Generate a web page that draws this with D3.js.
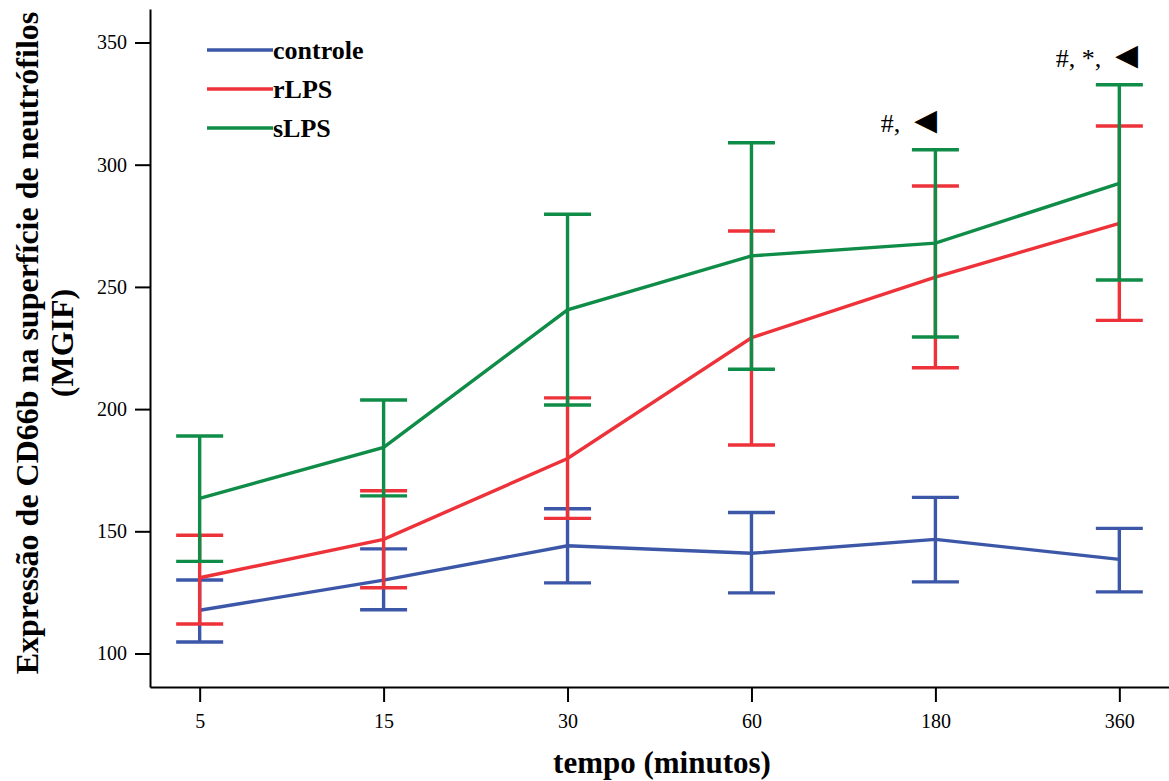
<!DOCTYPE html>
<html>
<head>
<meta charset="utf-8">
<script src="https://cdn.jsdelivr.net/npm/d3@7"></script>
<style>
  body { margin: 0; background: #fff; }
  text { font-family: "Liberation Serif", "Times New Roman", serif; }
</style>
</head>
<body>
<svg id="chart" width="1169" height="781"></svg>
<script>
var times = ["5", "15", "30", "60", "180", "360"];
var yTicks = [100, 150, 200, 250, 300, 350];

var controleMean = [117.7, 130.0, 144.1, 141.0, 146.7, 138.5];
var controleHigh = [130.1, 142.8, 159.2, 157.7, 163.9, 151.2];
var controleLow = [104.7, 117.9, 128.9, 124.8, 129.3, 125.2];

var rlpsMean = [131.0, 146.7, 179.8, 229.2, 254.0, 276.0];
var rlpsHigh = [148.4, 166.6, 204.6, 272.9, 291.3, 315.8];
var rlpsLow = [112.1, 126.9, 155.3, 185.3, 216.9, 236.3];

var slpsMean = [163.5, 184.3, 240.6, 262.7, 267.9, 292.4];
var slpsHigh = [189.0, 203.7, 279.7, 309.0, 306.1, 332.7];
var slpsLow = [137.7, 164.5, 201.7, 216.3, 229.5, 252.8];

var annotations = [
  { time: "180", marks: "#, " },
  { time: "360", marks: "#, *, " },
];

var series = [
  { name: "controle", color: "#3d57a8", mean: controleMean, high: controleHigh, low: controleLow },
  { name: "rLPS", color: "#ee3239", mean: rlpsMean, high: rlpsHigh, low: rlpsLow },
  { name: "sLPS", color: "#0f8c47", mean: slpsMean, high: slpsHigh, low: slpsLow },
];

var dimensions = {
  width: 1169,
  height: 781,
  margin: { top: 9, right: 0, bottom: 94, left: 150 },
};
dimensions.boundedWidth = dimensions.width - dimensions.margin.left - dimensions.margin.right;
dimensions.boundedHeight = dimensions.height - dimensions.margin.top - dimensions.margin.bottom;

var svg = d3.select("#chart");

var xScale = d3
  .scalePoint()
  .domain(times)
  .range([dimensions.margin.left, dimensions.width - dimensions.margin.right])
  .padding(0.27);

var yScale = d3
  .scaleLinear()
  .domain([86.3, 363.7])
  .range([dimensions.margin.top + dimensions.boundedHeight, dimensions.margin.top]);

// axes
var xAxis = d3.axisBottom(xScale).tickSize(15).tickSizeOuter(0).tickPadding(12);
var gx = svg
  .append("g")
  .attr("transform", "translate(0," + (dimensions.margin.top + dimensions.boundedHeight) + ")")
  .call(xAxis);

var yAxis = d3.axisLeft(yScale).tickValues(yTicks).tickSize(15).tickSizeOuter(0).tickPadding(8);
var gy = svg
  .append("g")
  .attr("transform", "translate(" + dimensions.margin.left + ",0)")
  .call(yAxis);

[gx, gy].forEach(function (g) {
  g.select(".domain").attr("stroke", "#000").attr("stroke-width", 2);
  g.selectAll(".tick line").attr("stroke", "#000").attr("stroke-width", 2);
  g.selectAll(".tick text")
    .attr("fill", "#000")
    .style("font-family", '"Liberation Serif", "Times New Roman", serif')
    .style("font-size", "20px");
});

// series: error bars then line
var capHalf = 23.5;
var strokeW = 3.4;
series.forEach(function (s) {
  var g = svg.append("g");
  var rows = times.map(function (t, i) {
    return { t: t, mean: s.mean[i], high: s.high[i], low: s.low[i] };
  });

  g.selectAll(".bar")
    .data(rows)
    .enter()
    .append("line")
    .attr("x1", (d) => xScale(d.t))
    .attr("x2", (d) => xScale(d.t))
    .attr("y1", (d) => yScale(d.high))
    .attr("y2", (d) => yScale(d.low))
    .attr("stroke", s.color)
    .attr("stroke-width", strokeW);

  ["high", "low"].forEach(function (k) {
    g.selectAll(".cap-" + k)
      .data(rows)
      .enter()
      .append("line")
      .attr("x1", (d) => xScale(d.t) - capHalf)
      .attr("x2", (d) => xScale(d.t) + capHalf)
      .attr("y1", (d) => yScale(d[k]))
      .attr("y2", (d) => yScale(d[k]))
      .attr("stroke", s.color)
      .attr("stroke-width", strokeW);
  });

  var line = d3
    .line()
    .x((d) => xScale(d.t))
    .y((d) => yScale(d.mean));

  g.append("path")
    .datum(rows)
    .attr("d", line)
    .attr("fill", "none")
    .attr("stroke", s.color)
    .attr("stroke-width", strokeW);
});

// significance marks above sLPS caps
annotations.forEach(function (a) {
  var i = times.indexOf(a.time);
  var t = svg
    .append("text")
    .attr("x", xScale(a.time) + (a.time === "360" ? 26 : 9))
    .attr("y", yScale(slpsHigh[i]) - 18)
    .attr("text-anchor", "end")
    .style("font-size", "26px");
  t.append("tspan").text(a.marks);
  t.append("tspan").style("font-size", "38px").attr("dy", "0.04em").text("\u25C4");
});

// legend
var legend = svg.append("g").attr("transform", "translate(207,50)");
series.forEach(function (s, i) {
  var row = legend.append("g").attr("transform", "translate(0," + i * 39 + ")");
  row.append("line")
    .attr("x1", 0)
    .attr("x2", 66)
    .attr("stroke", s.color)
    .attr("stroke-width", strokeW);
  row.append("text")
    .attr("x", 66)
    .attr("dy", "0.33em")
    .style("font-size", "26px")
    .style("font-weight", "bold")
    .text(s.name);
});

// axis titles
svg
  .append("text")
  .attr("x", 662)
  .attr("y", 773)
  .attr("text-anchor", "middle")
  .style("font-size", "31px")
  .style("font-weight", "bold")
  .text("tempo (minutos)");

var yTitle = svg
  .append("text")
  .attr("transform", "translate(38,343) rotate(-90)")
  .attr("text-anchor", "middle")
  .style("font-size", "32px")
  .style("font-weight", "bold");
yTitle.append("tspan").attr("x", 0).attr("y", 0).text("Expressão de CD66b na superfície de neutrófilos");
yTitle.append("tspan").attr("x", 0).attr("y", 35).text("(MGIF)");
</script>
</body>
</html>
